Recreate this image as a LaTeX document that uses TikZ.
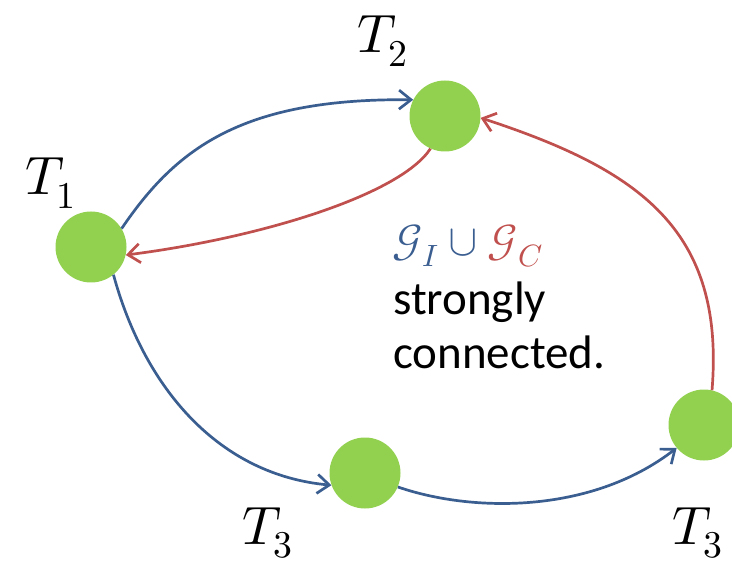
\documentclass[tikz,border=0pt]{standalone}
\usepackage{fontspec}
\usepackage{unicode-math}
\setmainfont{Carlito}
\setmathfont{Latin Modern Math}
\usetikzlibrary{arrows.meta}
\definecolor{eblue}{HTML}{3B5E91}
\definecolor{ered}{HTML}{C0504D}
\definecolor{vgreen}{HTML}{92D050}
\begin{document}
\begin{tikzpicture}[x=1pt,y=-1pt,
  vertex/.style={circle,fill=vgreen,inner sep=0pt,minimum size=71pt},
  lbl/.style={anchor=base west,inner sep=0pt,font=\fontsize{54}{60}\selectfont},
  txt/.style={anchor=base west,inner sep=0pt,font=\fontsize{47}{53}\selectfont},
  edge/.style={line width=2.7pt,-{Straight Barb[length=12pt,width=19pt,line width=2.7pt]}},
  bedge/.style={edge,draw=eblue},
  redge/.style={edge,draw=ered}]
\useasboundingbox (0,0) rectangle (732,567);
\node[vertex] (t1) at (91,247) {};
\node[vertex] (t2) at (445,116) {};
\node[vertex] (t3) at (365,473) {};
\node[vertex] (t4) at (704,425) {};
\node[lbl] (l1) at (25,195) {$T_1$};
\node[lbl] (l2) at (357,53) {$T_2$};
\node[lbl] (l3) at (242,544) {$T_3$};
\node[lbl] (l4) at (672,544) {$T_3$};
\node[txt,font=\fontsize{44}{53}\selectfont] (g) at (392,256) {$\color{eblue}\mathcal{G}_I\cup{}\color{ered}\mathcal{G}_C$};
\node[txt] (s1) at (393,315) {strongly};
\node[txt] (s2) at (393,368) {connected.};
\draw[bedge] (t1.31) .. controls (175,150) and (240,98) .. (t2.153);
\draw[redge] (t2.246) .. controls (400,195) and (260,238) .. (t1.-13);
\draw[bedge] (t1.-51) .. controls (145,390) and (220,475) .. (t3.200);
\draw[bedge] (t3.-23) .. controls (470,512) and (590,515) .. (t4.220);
\draw[redge] (t4.77) .. controls (725,230) and (640,170) .. (t2.-3);
\end{tikzpicture}
\end{document}
